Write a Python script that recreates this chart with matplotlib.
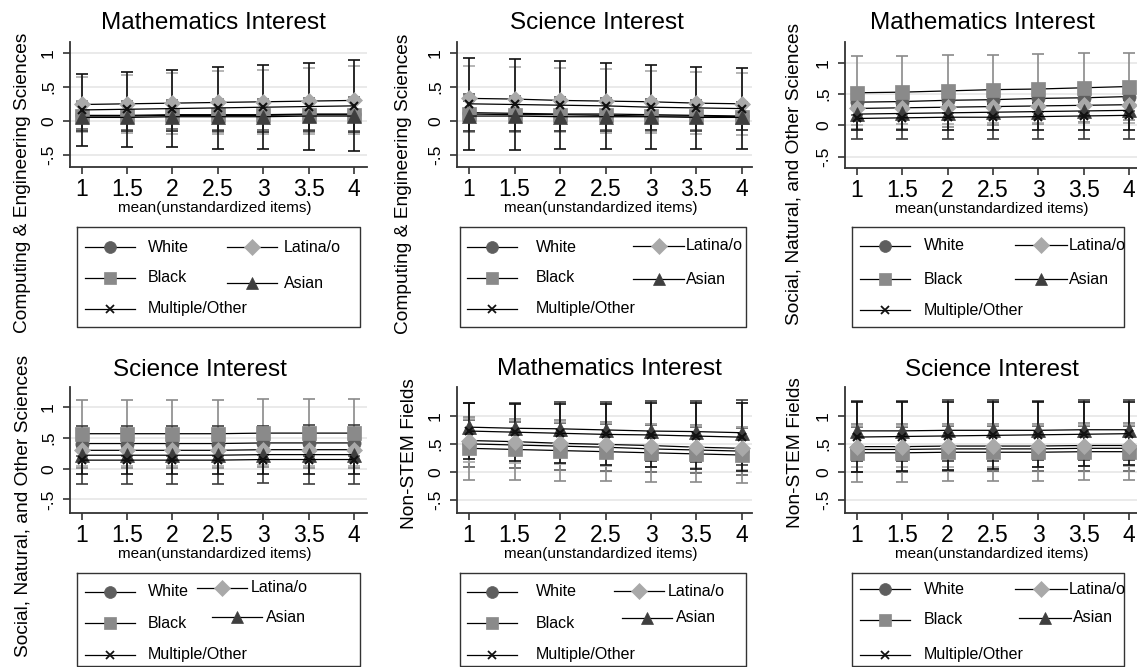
import matplotlib
matplotlib.use('Agg')
import matplotlib.pyplot as plt

plt.rcParams['font.family'] = ['Liberation Sans', 'DejaVu Sans']

# --- data ---
x_vals = [1, 1.5, 2, 2.5, 3, 3.5, 4]
x_ticklabels = ['1', '1.5', '2', '2.5', '3', '3.5', '4']
y_ticks = [-0.5, 0, 0.5, 1]
y_ticklabels = ['-.5', '0', '.5', '1']
groups = ['White', 'Black', 'Latina/o', 'Asian', 'Multiple/Other']

# Computing & Engineering Sciences, Mathematics Interest
ce_math_mean = {
    'White':          [0.08, 0.08, 0.09, 0.09, 0.09, 0.10, 0.10],
    'Black':          [0.07, 0.07, 0.08, 0.08, 0.08, 0.09, 0.09],
    'Latina/o':       [0.24, 0.25, 0.26, 0.27, 0.28, 0.29, 0.30],
    'Asian':          [0.05, 0.05, 0.06, 0.06, 0.06, 0.07, 0.07],
    'Multiple/Other': [0.16, 0.17, 0.18, 0.19, 0.20, 0.21, 0.22],
}
ce_math_ci = {
    'White':          [0.20, 0.21, 0.21, 0.22, 0.23, 0.24, 0.25],
    'Black':          [0.22, 0.22, 0.23, 0.24, 0.24, 0.25, 0.26],
    'Latina/o':       [0.41, 0.43, 0.45, 0.46, 0.47, 0.48, 0.50],
    'Asian':          [0.20, 0.20, 0.21, 0.21, 0.22, 0.22, 0.23],
    'Multiple/Other': [0.53, 0.55, 0.57, 0.60, 0.62, 0.64, 0.67],
}

# Computing & Engineering Sciences, Science Interest
ce_sci_mean = {
    'White':          [0.12, 0.11, 0.10, 0.10, 0.09, 0.08, 0.07],
    'Black':          [0.10, 0.09, 0.09, 0.08, 0.07, 0.07, 0.06],
    'Latina/o':       [0.33, 0.32, 0.30, 0.29, 0.28, 0.26, 0.25],
    'Asian':          [0.07, 0.07, 0.06, 0.06, 0.06, 0.05, 0.05],
    'Multiple/Other': [0.25, 0.24, 0.23, 0.22, 0.20, 0.19, 0.18],
}
ce_sci_ci = {
    'White':          [0.27, 0.26, 0.25, 0.24, 0.23, 0.22, 0.21],
    'Black':          [0.26, 0.25, 0.24, 0.23, 0.22, 0.21, 0.20],
    'Latina/o':       [0.48, 0.47, 0.47, 0.47, 0.46, 0.46, 0.46],
    'Asian':          [0.22, 0.22, 0.21, 0.21, 0.20, 0.20, 0.19],
    'Multiple/Other': [0.68, 0.67, 0.65, 0.63, 0.62, 0.60, 0.59],
}

# Social, Natural, and Other Sciences, Mathematics Interest
sno_math_mean = {
    'White':          [0.37, 0.38, 0.40, 0.41, 0.43, 0.44, 0.46],
    'Black':          [0.52, 0.53, 0.55, 0.57, 0.58, 0.60, 0.62],
    'Latina/o':       [0.27, 0.28, 0.29, 0.30, 0.31, 0.32, 0.33],
    'Asian':          [0.18, 0.19, 0.20, 0.21, 0.22, 0.23, 0.24],
    'Multiple/Other': [0.11, 0.12, 0.13, 0.13, 0.14, 0.15, 0.16],
}
sno_math_ci = {
    'White':          [0.20, 0.20, 0.21, 0.21, 0.22, 0.22, 0.23],
    'Black':          [0.58, 0.58, 0.57, 0.56, 0.56, 0.55, 0.54],
    'Latina/o':       [0.26, 0.26, 0.27, 0.27, 0.28, 0.28, 0.29],
    'Asian':          [0.40, 0.40, 0.41, 0.42, 0.43, 0.44, 0.45],
    'Multiple/Other': [0.18, 0.19, 0.20, 0.21, 0.22, 0.23, 0.24],
}

# Social, Natural, and Other Sciences, Science Interest
sno_sci_mean = {
    'White':          [0.41, 0.41, 0.41, 0.41, 0.42, 0.42, 0.42],
    'Black':          [0.57, 0.57, 0.57, 0.57, 0.58, 0.58, 0.58],
    'Latina/o':       [0.30, 0.30, 0.30, 0.30, 0.31, 0.31, 0.31],
    'Asian':          [0.22, 0.22, 0.22, 0.22, 0.23, 0.23, 0.23],
    'Multiple/Other': [0.14, 0.14, 0.14, 0.14, 0.15, 0.15, 0.15],
}
sno_sci_ci = {
    'White':          [0.20, 0.20, 0.20, 0.20, 0.20, 0.21, 0.21],
    'Black':          [0.55, 0.55, 0.55, 0.55, 0.55, 0.56, 0.56],
    'Latina/o':       [0.25, 0.25, 0.25, 0.25, 0.25, 0.26, 0.26],
    'Asian':          [0.47, 0.47, 0.47, 0.47, 0.47, 0.48, 0.48],
    'Multiple/Other': [0.23, 0.23, 0.23, 0.23, 0.24, 0.24, 0.24],
}

# Non-STEM Fields, Mathematics Interest
ns_math_mean = {
    'White':          [0.50, 0.48, 0.46, 0.44, 0.41, 0.39, 0.37],
    'Black':          [0.42, 0.40, 0.38, 0.36, 0.34, 0.32, 0.30],
    'Latina/o':       [0.56, 0.54, 0.51, 0.49, 0.47, 0.44, 0.42],
    'Asian':          [0.80, 0.78, 0.77, 0.75, 0.73, 0.72, 0.70],
    'Multiple/Other': [0.73, 0.71, 0.69, 0.67, 0.66, 0.64, 0.62],
}
ns_math_ci = {
    'White':          [0.42, 0.42, 0.42, 0.42, 0.42, 0.42, 0.42],
    'Black':          [0.56, 0.55, 0.54, 0.53, 0.52, 0.51, 0.50],
    'Latina/o':       [0.38, 0.38, 0.38, 0.38, 0.38, 0.38, 0.38],
    'Asian':          [0.44, 0.46, 0.48, 0.50, 0.53, 0.55, 0.58],
    'Multiple/Other': [0.50, 0.51, 0.53, 0.55, 0.57, 0.59, 0.61],
}

# Non-STEM Fields, Science Interest
ns_sci_mean = {
    'White':          [0.40, 0.40, 0.41, 0.41, 0.41, 0.42, 0.42],
    'Black':          [0.34, 0.34, 0.35, 0.35, 0.35, 0.36, 0.36],
    'Latina/o':       [0.45, 0.45, 0.46, 0.46, 0.46, 0.47, 0.47],
    'Asian':          [0.73, 0.73, 0.74, 0.74, 0.74, 0.75, 0.75],
    'Multiple/Other': [0.62, 0.63, 0.64, 0.65, 0.66, 0.67, 0.68],
}
ns_sci_ci = {
    'White':          [0.40, 0.40, 0.40, 0.40, 0.40, 0.40, 0.40],
    'Black':          [0.51, 0.51, 0.51, 0.51, 0.51, 0.51, 0.51],
    'Latina/o':       [0.37, 0.37, 0.37, 0.37, 0.37, 0.37, 0.37],
    'Asian':          [0.54, 0.54, 0.54, 0.54, 0.53, 0.53, 0.53],
    'Multiple/Other': [0.62, 0.61, 0.60, 0.59, 0.58, 0.57, 0.56],
}

# --- style ---
W, H = 1137, 667
styles = {
    'White':          dict(marker='o', color='#5e5e5e', ms=9.5),
    'Black':          dict(marker='s', color='#8a8a8a', ms=9.5),
    'Latina/o':       dict(marker='D', color='#a9a9a9', ms=8.5),
    'Asian':          dict(marker='^', color='#3e3e3e', ms=10),
    'Multiple/Other': dict(marker='x', color='#111111', ms=6),
}

# panel boxes in pixels: left, top, right, bottom
panels = [
    dict(mean=ce_math_mean, ci=ce_math_ci, box=(70, 42, 367, 167), xlim=(0.871, 4.143), ylim=(-0.68, 1.16),
         title='Mathematics Interest', tpos=(213, 23), ylab='Computing & Engineering Sciences', ypos=(23, 183)),
    dict(mean=ce_sci_mean, ci=ce_sci_ci, box=(457, 42, 752, 167), xlim=(0.868, 4.11), ylim=(-0.68, 1.16),
         title='Science Interest', tpos=(597, 23), ylab='Computing & Engineering Sciences', ypos=(403, 184)),
    dict(mean=sno_math_mean, ci=sno_math_ci, box=(845, 42, 1137, 168), xlim=(0.871, 4.085), ylim=(-0.68, 1.33),
         title='Mathematics Interest', tpos=(982, 23), ylab='Social, Natural, and Other Sciences', ypos=(794, 174)),
    dict(mean=sno_sci_mean, ci=sno_sci_ci, box=(70, 387, 367, 513), xlim=(0.871, 4.143), ylim=(-0.72, 1.33),
         title='Science Interest', tpos=(200, 370), ylab='Social, Natural, and Other Sciences', ypos=(23, 506)),
    dict(mean=ns_math_mean, ci=ns_math_ci, box=(457, 387, 752, 513), xlim=(0.868, 4.11), ylim=(-0.74, 1.52),
         title='Mathematics Interest', tpos=(609, 369), ylab='Non-STEM Fields', ypos=(409, 454)),
    dict(mean=ns_sci_mean, ci=ns_sci_ci, box=(845, 387, 1137, 513), xlim=(0.871, 4.085), ylim=(-0.73, 1.51),
         title='Science Interest', tpos=(992, 370), ylab='Non-STEM Fields', ypos=(795, 453)),
]

# legend layout in pixels
legends = [
    dict(box=(77, 227, 360, 327), c1=(85, 135, 148), r1=(247, 278, 309),
         c2=[(227, 277, 284, 247), (227, 277, 284, 283)]),
    dict(box=(460, 227, 746, 327), c1=(467, 517, 536), r1=(247, 278, 309),
         c2=[(633, 684, 686, 246), (633, 684, 686, 279)]),
    dict(box=(852, 227, 1124, 327), c1=(860, 910, 924), r1=(246, 279, 310),
         c2=[(1015, 1067, 1069, 245), (1015, 1067, 1069, 279)]),
    dict(box=(77, 573, 360, 666), c1=(85, 135, 148), r1=(592, 623, 655),
         c2=[(197, 247, 251, 588), (212, 262, 266, 617)]),
    dict(box=(460, 573, 746, 666), c1=(467, 517, 536), r1=(592, 623, 655),
         c2=[(614, 664, 668, 591), (622, 672, 676, 618)]),
    dict(box=(852, 573, 1124, 666), c1=(860, 910, 924), r1=(589, 620, 655),
         c2=[(1015, 1067, 1069, 589), (1019, 1071, 1073, 618)]),
]

fig = plt.figure(figsize=(W / 100, H / 100), dpi=100)
fig.patch.set_facecolor('white')

# overlay in pixel coordinates for texts and legend boxes
ov = fig.add_axes([0, 0, 1, 1], zorder=0)
ov.set_xlim(0, W)
ov.set_ylim(H, 0)
ov.axis('off')

for p in panels:
    l, t, r, b = p['box']
    ax = fig.add_axes([l / W, 1 - b / H, (r - l) / W, (b - t) / H], zorder=1)
    ax.set_facecolor('white')
    for g in groups:
        st = styles[g]
        ax.errorbar(x_vals, p['mean'][g], yerr=p['ci'][g], fmt='none', ecolor=st['color'],
                    elinewidth=1.2, capsize=4.5, capthick=1.2, zorder=2)
    for g in groups:
        st = styles[g]
        ax.plot(x_vals, p['mean'][g], color='black', lw=0.9, marker=st['marker'], ms=st['ms'],
                mfc=st['color'], mec=st['color'], mew=1.5 if st['marker'] == 'x' else 0.5, zorder=3)
    ax.set_xlim(*p['xlim'])
    ax.set_ylim(*p['ylim'])
    ax.set_xticks(x_vals)
    ax.set_xticklabels(x_ticklabels)
    ax.set_yticks(y_ticks)
    ax.set_yticklabels(y_ticklabels)
    ax.yaxis.grid(True, color='#e6e6e6', lw=1.2)
    ax.set_axisbelow(True)
    for s in ['top', 'right']:
        ax.spines[s].set_visible(False)
    for s in ['left', 'bottom']:
        ax.spines[s].set_color('#333333')
        ax.spines[s].set_linewidth(1.3)
    ax.tick_params(axis='both', direction='out', length=5, width=1.2, color='#333333')
    ax.tick_params(axis='x', labelsize=16.5, pad=3)
    ax.tick_params(axis='y', labelsize=12.5, labelrotation=90, pad=5)
    for lab in ax.get_yticklabels():
        lab.set_va('center')

    ov.text(p['tpos'][0], p['tpos'][1], p['title'], fontsize=17.5, ha='center', va='center')
    ov.text(p['ypos'][0], p['ypos'][1], p['ylab'], fontsize=13.8, rotation=90, ha='center', va='center')
    ov.text((l + r - 8) / 2 if r < 1137 else 992, b + 41, 'mean(unstandardized items)',
            fontsize=11, ha='center', va='center')

for lg in legends:
    x0, y0, x1, y1 = lg['box']
    ov.plot([x0, x1, x1, x0, x0], [y0, y0, y1, y1, y0], color='#333333', lw=1.0)
    a, bb, tx = lg['c1']
    for g, ry in zip(['White', 'Black', 'Multiple/Other'], lg['r1']):
        st = styles[g]
        ov.plot([a, bb], [ry, ry], color='black', lw=0.9)
        ov.plot([(a + bb) / 2], [ry], marker=st['marker'], ms=st['ms'] * 0.9, mfc=st['color'],
                mec=st['color'], mew=1.3 if st['marker'] == 'x' else 0.5)
        ov.text(tx, ry, g, fontsize=11.5, ha='left', va='center')
    for g, (a, bb, tx, ry) in zip(['Latina/o', 'Asian'], lg['c2']):
        st = styles[g]
        ov.plot([a, bb], [ry, ry], color='black', lw=0.9)
        ov.plot([(a + bb) / 2], [ry], marker=st['marker'], ms=st['ms'] * 0.9, mfc=st['color'],
                mec=st['color'], mew=0.5)
        ov.text(tx, ry, g, fontsize=11.5, ha='left', va='center')

fig.savefig('out.png', dpi=100)
